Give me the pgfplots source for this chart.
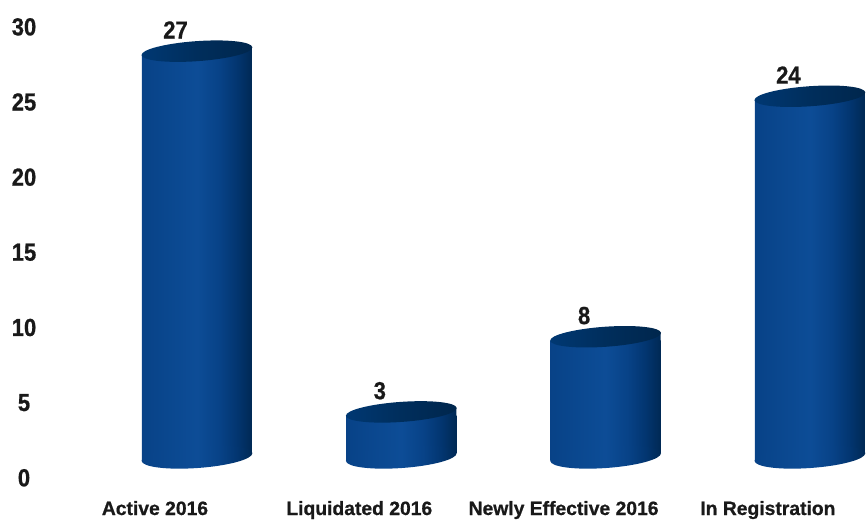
\documentclass[border=0pt]{standalone}
\usepackage{fontspec}
\setmainfont{Liberation Sans}[BoldFeatures={FakeBold=0.8}]
\usepackage{pgfplots}
\pgfplotsset{compat=1.18}

% horizontal shades, the part from 25bp to 75bp spans the path
\pgfdeclarehorizontalshading{cylbody}{100bp}{
  rgb(0bp)=(0.03,0.26,0.53); rgb(25bp)=(0.03,0.26,0.53); rgb(37bp)=(0.04,0.28,0.56);
  rgb(50bp)=(0.05,0.30,0.59); rgb(60bp)=(0.03,0.26,0.53); rgb(68bp)=(0.01,0.21,0.44);
  rgb(75bp)=(0,0.16,0.33); rgb(100bp)=(0,0.16,0.33)}
\pgfdeclarehorizontalshading{cyllid}{100bp}{
  rgb(0bp)=(0,0.22,0.45); rgb(25bp)=(0,0.22,0.45); rgb(50bp)=(0,0.18,0.36);
  rgb(75bp)=(0,0.15,0.30); rgb(100bp)=(0,0.15,0.30)}

% top of a cylinder, origin on the end of the bar
\pgfdeclareplotmark{cyltop}{%
  \pgfpathmoveto{\pgfpoint{-55pt}{-1pt}}%
  \pgfpathlineto{\pgfpoint{55pt}{-1pt}}%
  \pgfpathlineto{\pgfpoint{55pt}{8pt}}%
  \pgfpathlineto{\pgfpoint{-55pt}{0pt}}%
  \pgfpathclose
  \pgfshadepath{cylbody}{0}\pgfusepath{discard}%
  \pgfpathellipse{\pgfpoint{0pt}{4pt}}{\pgfpoint{55.4pt}{3.9pt}}{\pgfpoint{-0.7pt}{10pt}}%
  \pgfshadepath{cyllid}{0}\pgfusepath{discard}%
}
% foot of a cylinder, origin on the foot of the bar
\pgfdeclareplotmark{cylfoot}{%
  \pgfsetfillcolor{white}%
  \pgfpathrectangle{\pgfpoint{0pt}{-2pt}}{\pgfpoint{57pt}{10pt}}%
  \pgfusepath{fill}%
  \pgfpathellipse{\pgfpoint{0pt}{4pt}}{\pgfpoint{55.4pt}{3.9pt}}{\pgfpoint{-0.7pt}{11pt}}%
  \pgfshadepath{cylbody}{0}\pgfusepath{discard}%
}

\begin{document}
\begin{tikzpicture}
\begin{axis}[
    at={(50pt,29pt)}, anchor=south west,
    scale only axis, width=817pt, height=490pt,
    xmin=-0.7195, xmax=3.2795,
    ymin=-1.9295, ymax=30.67,
    clip=false,
    axis line style={draw=none},
    tick style={draw=none},
    xtick={0,1,2,3},
    xticklabels={Active 2016, Liquidated 2016, Newly Effective 2016, In Registration},
    ytick={0,5,...,30},
    /pgf/number format/assume math mode=true,
    xticklabel style={font=\fontsize{19.3}{19.3}\bfseries, anchor=base, xshift=-42pt, yshift=-25pt, text=black!90},
    yticklabel style={font=\fontsize{22}{22}\bfseries, anchor=center, yscale=1.12, xshift=-26pt, yshift=-15pt, text=black!90},
    cylbar/.style={ybar, bar width=110pt, bar shift=0pt, draw=none, shading=cylbody},
]
  % one plot per bar: a single plot would share its shading over all bars
  \addplot[cylbar] coordinates {(0,27)};
  \addplot[cylbar] coordinates {(1,3)};
  \addplot[cylbar] coordinates {(2,8)};
  \addplot[cylbar] coordinates {(3,24)};
  \addplot[only marks, mark=cylfoot] coordinates {(0,0) (1,0) (2,0) (3,0)};
  \addplot[only marks, mark=cyltop,
      nodes near coords,
      nodes near coords style={font=\fontsize{22}{22}\bfseries, anchor=center, yscale=1.12, xshift=-21.5pt, yshift=22.5pt, text=black!90},
  ] coordinates {(0,27) (1,3) (2,8) (3,24)};
\end{axis}
\path[use as bounding box] (0,0) rectangle (867pt,519pt);
\end{tikzpicture}
\end{document}
